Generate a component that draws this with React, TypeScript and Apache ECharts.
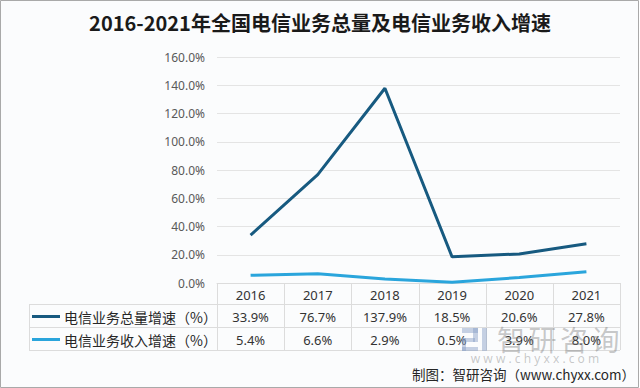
import React, { useEffect, useRef } from "react";
import * as echarts from "echarts";

const years = ["2016", "2017", "2018", "2019", "2020", "2021"];
const totalGrowth = [33.9, 76.7, 137.9, 18.5, 20.6, 27.8];
const revenueGrowth = [5.4, 6.6, 2.9, 0.5, 3.9, 8.0];
const seriesNames = ["电信业务总量增速（%）", "电信业务收入增速（%）"];
const seriesColors = ["#175a80", "#2aa5dc"];
const titleText = "2016-2021年全国电信业务总量及电信业务收入增速";
const sourceText = "制图：智研咨询（www.chyxx.com）";
const watermarkChars = ["智", "研", "咨", "询"];
const watermarkUrl = "w w w . c h y x x . c o m";

const W = 640;
const H = 388;
const GL = 217;
const GR = 620;
const GT = 57;
const GB = 283;
const ROW_LINES = [304, 327, 350];
const TABLE_LEFT = 29;
const GRID_COLOR = "#dcdcdc";
const FONT = "'Noto Sans', 'Noto Sans CJK SC', sans-serif";
const CJK = "'Noto Sans CJK SC', sans-serif";

export default function App() {
  const ref = useRef<HTMLDivElement>(null);
  useEffect(() => {
    document.body.style.margin = "0";
    const chart = echarts.init(ref.current!, null, { renderer: "svg" });
    const colW = (GR - GL) / years.length;
    const graphics: any[] = [];
    graphics.push({
      type: "rect",
      z: -10,
      shape: { x: 0.5, y: 0.5, width: W - 2, height: H - 1 },
      style: { fill: "#fbfcfd", stroke: "#a9a9a9", lineWidth: 1 },
      silent: true,
    });
    graphics.push({
      type: "text",
      x: W / 2,
      y: 22,
      style: {
        text: titleText,
        fill: "#1a1a1a",
        font: `bold 20px ${CJK}`,
        textAlign: "center",
        textVerticalAlign: "middle",
      },
    });
    const lineStyle = { stroke: GRID_COLOR, lineWidth: 1 };
    ROW_LINES.forEach((y) => {
      graphics.push({
        type: "line",
        shape: { x1: TABLE_LEFT, y1: y + 0.5, x2: GR, y2: y + 0.5 },
        style: lineStyle,
      });
    });
    for (let i = 0; i <= years.length; i++) {
      const x = Math.round(GL + i * colW) + 0.5;
      graphics.push({
        type: "line",
        shape: { x1: x, y1: GB, x2: x, y2: ROW_LINES[2] },
        style: lineStyle,
      });
    }
    graphics.push({
      type: "line",
      shape: { x1: TABLE_LEFT + 0.5, y1: ROW_LINES[0], x2: TABLE_LEFT + 0.5, y2: ROW_LINES[2] },
      style: lineStyle,
    });
    const rows = [totalGrowth, revenueGrowth];
    rows.forEach((vals, r) => {
      const cy = (ROW_LINES[r] + ROW_LINES[r + 1]) / 2 + 1;
      graphics.push({
        type: "line",
        shape: { x1: 32, y1: cy, x2: 60, y2: cy },
        style: { stroke: seriesColors[r], lineWidth: 3 },
      });
      graphics.push({
        type: "text",
        x: 64,
        y: cy,
        style: {
          text: seriesNames[r],
          fill: "#262626",
          font: `14px ${CJK}`,
          textVerticalAlign: "middle",
        },
      });
      vals.forEach((v, i) => {
        graphics.push({
          type: "text",
          x: GL + (i + 0.5) * colW,
          y: cy,
          style: {
            text: v.toFixed(1) + "%",
            fill: "#333333",
            font: `13px ${FONT}`,
            textAlign: "center",
            textVerticalAlign: "middle",
          },
        });
      });
    });
    // watermark
    const logoFill = "rgba(130,155,195,0.45)";
    const wmChildren: any[] = [
      { type: "rect", shape: { x: 462, y: 328, width: 16, height: 5 }, style: { fill: logoFill } },
      { type: "rect", shape: { x: 473, y: 328, width: 5, height: 14 }, style: { fill: logoFill } },
      { type: "rect", shape: { x: 462, y: 338, width: 13, height: 4 }, style: { fill: logoFill } },
      { type: "rect", shape: { x: 462, y: 338, width: 4, height: 13 }, style: { fill: logoFill } },
      { type: "rect", shape: { x: 462, y: 347, width: 16, height: 4 }, style: { fill: logoFill } },
      { type: "rect", shape: { x: 482, y: 328, width: 5, height: 23 }, style: { fill: logoFill } },
    ];
    watermarkChars.forEach((c, i) => {
      wmChildren.push({
        type: "text",
        x: 497 + i * 31.5,
        y: 339,
        style: { text: c, fill: "rgba(125,125,125,0.42)", font: `28px ${CJK}`, textVerticalAlign: "middle" },
      });
    });
    wmChildren.push({
      type: "text",
      x: 535,
      y: 358,
      style: {
        text: watermarkUrl,
        fill: "rgba(125,125,125,0.42)",
        font: `12px ${FONT}`,
        textAlign: "center",
        textVerticalAlign: "middle",
      },
    });
    graphics.push({ type: "group", z: 20, silent: true, children: wmChildren });
    graphics.push({
      type: "text",
      x: 635,
      y: 374,
      z: 30,
      style: {
        text: sourceText,
        fill: "#262626",
        font: `13.5px ${CJK}`,
        textAlign: "right",
        textVerticalAlign: "middle",
      },
    });

    chart.setOption({
      animation: false,
      grid: { left: GL, right: W - GR, top: GT, bottom: H - GB, containLabel: false },
      xAxis: {
        type: "category",
        data: years,
        boundaryGap: true,
        axisLine: { show: true, lineStyle: { color: GRID_COLOR } },
        axisTick: { show: false },
        axisLabel: { color: "#333333", fontSize: 13, fontFamily: FONT, margin: 5 },
      },
      yAxis: {
        type: "value",
        min: 0,
        max: 160,
        interval: 20,
        axisLine: { show: false },
        axisTick: { show: false },
        splitLine: { lineStyle: { color: "#e4e4e4" } },
        axisLabel: {
          color: "#595959",
          fontSize: 12,
          fontFamily: FONT,
          margin: 12,
          formatter: (v: number) => v.toFixed(1) + "%",
        },
      },
      series: [
        {
          name: seriesNames[0],
          type: "line",
          data: totalGrowth,
          symbol: "none",
          lineStyle: { color: seriesColors[0], width: 3 },
        },
        {
          name: seriesNames[1],
          type: "line",
          data: revenueGrowth,
          symbol: "none",
          lineStyle: { color: seriesColors[1], width: 3 },
        },
      ],
      graphic: graphics,
    });
    return () => chart.dispose();
  }, []);
  return <div ref={ref} style={{ position: "absolute", left: 0, top: 0, width: W, height: H }} />;
}
